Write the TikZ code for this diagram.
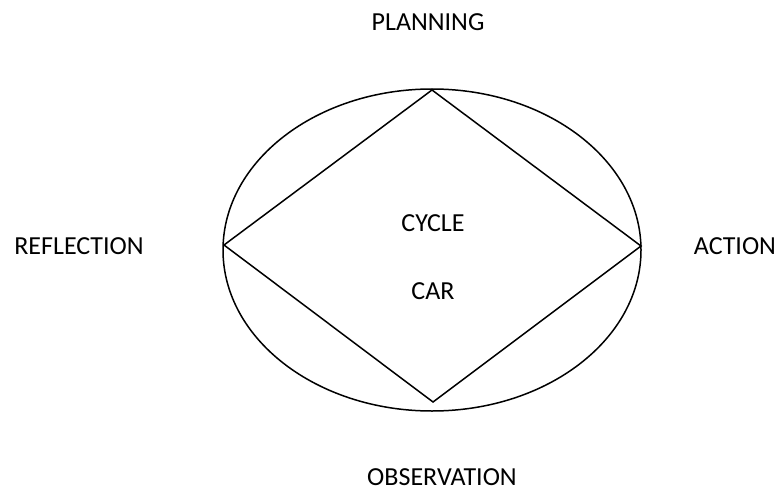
\documentclass[tikz,border=0pt]{standalone}
\usepackage{fontspec}
\setmainfont{Carlito}
\usetikzlibrary{shapes.geometric}
\begin{document}
\begin{tikzpicture}[x=1pt,y=-1pt,
  lbl/.style={inner sep=0pt,font=\fontsize{26}{30}\selectfont},
  shp/.style={draw=black,line width=1.5pt}]
\useasboundingbox (0,0) rectangle (778,492);
\node[shp,ellipse,minimum width=418pt,minimum height=322pt,inner sep=0pt] (ell) at (432,250) {};
\coordinate (dt) at (432,90);
\coordinate (dr) at (641,246);
\coordinate (db) at (433,402);
\coordinate (dl) at (224,245);
\draw[shp,line join=miter] (dt) -- (dr) -- (db) -- (dl) -- cycle;
\node[lbl] (plan) at (428,22.5) {PLANNING};
\node[lbl] (act) at (735,246) {ACTION};
\node[lbl] (refl) at (79,246.5) {REFLECTION};
\node[lbl] (obs) at (442,477.5) {OBSERVATION};
\node[lbl] (cyc) at (433,223) {CYCLE};
\node[lbl] (car) at (433,291) {CAR};
\end{tikzpicture}
\end{document}
